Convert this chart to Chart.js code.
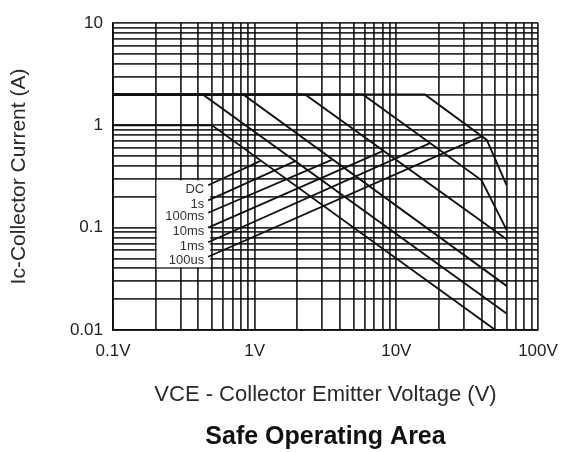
<!DOCTYPE html>
<html>
<head>
<meta charset="utf-8">
<title>Safe Operating Area</title>
<script src="https://cdn.jsdelivr.net/npm/chart.js@4.4.0/dist/chart.umd.min.js"></script>
<style>
  html, body { margin: 0; padding: 0; background: #fff; }
  #wrap { width: 569px; height: 452px; }
</style>
</head>
<body>
<div id="wrap"><canvas id="soa"></canvas></div>
<script>
// Decades of both axes and the text printed under / beside them.
const xTickValues = [0.1, 1, 10, 100];
const xTickLabels = ['0.1V', '1V', '10V', '100V'];
const yTickValues = [0.01, 0.1, 1, 10];
const yTickLabels = ['0.01', '0.1', '1', '10'];

// Pulse widths, in the order of the label column (top to bottom).
const pulseNames = ['DC', '1s', '100ms', '10ms', '1ms', '100us'];

// Boundary of each curve, VCE (V) against IC (A).
const dcVolt = [0.1, 0.5, 50];
const dcAmp = [1, 1, 0.01];
const s1Volt = [0.1, 0.43, 60];
const s1Amp = [2, 2, 0.0145];
const ms100Volt = [0.1, 0.83, 60];
const ms100Amp = [2, 2, 0.027];
const ms10Volt = [0.1, 2.27, 60];
const ms10Amp = [2, 2, 0.077];
const ms1Volt = [0.1, 5.8, 40, 60];
const ms1Amp = [2, 2, 0.29, 0.095];
const us100Volt = [0.1, 15.9, 43.5, 60];
const us100Amp = [2, 2, 0.72, 0.26];

// Leader lines: from the label column up to a point on each curve.
const leaderStartVolt = [0.47, 0.47, 0.47, 0.47, 0.47, 0.47];
const leaderStartAmp = [0.26, 0.185, 0.14, 0.1, 0.072, 0.052];
const leaderEndVolt = [1.1, 1.95, 3.5, 8.0, 17.3, 40];
const leaderEndAmp = [0.45, 0.45, 0.46, 0.56, 0.67, 0.78];

const FONT = '"Liberation Sans", Arial, sans-serif';
const INK = '#111';
const GRID = 'rgba(0,0,0,0.82)';

function toPoints(xs, ys) {
    return xs.map((v, i) => ({ x: v, y: ys[i] }));
}

// 1..9 times every power of ten inside [min, max]: the full log grid.
function logGrid(min, max) {
    const out = [];
    for (let e = Math.floor(Math.log10(min)); e <= Math.ceil(Math.log10(max)); e++) {
        for (let m = 1; m <= 9; m++) {
            const v = Number((m * Math.pow(10, e)).toPrecision(6));
            if (v >= min * 0.9999 && v <= max * 1.0001) out.push(v);
        }
    }
    return out;
}

function labelFor(values, labels) {
    return v => {
        const i = values.findIndex(t => Math.abs(t - v) / t < 1e-6);
        return i < 0 ? '' : labels[i];
    };
}

const curves = [
    toPoints(dcVolt, dcAmp),
    toPoints(s1Volt, s1Amp),
    toPoints(ms100Volt, ms100Amp),
    toPoints(ms10Volt, ms10Amp),
    toPoints(ms1Volt, ms1Amp),
    toPoints(us100Volt, us100Amp)
];

const datasets = [];
curves.forEach((pts, i) => {
    datasets.push({
        label: pulseNames[i],
        data: pts,
        showLine: true,
        borderColor: INK,
        borderWidth: 1.9,
        pointRadius: 0,
        tension: 0
    });
});
pulseNames.forEach((name, i) => {
    datasets.push({
        label: name + ' leader',
        data: [
            { x: leaderStartVolt[i], y: leaderStartAmp[i] },
            { x: leaderEndVolt[i], y: leaderEndAmp[i] }
        ],
        showLine: true,
        borderColor: INK,
        borderWidth: 1.8,
        pointRadius: 0
    });
});

// White patch behind the pulse-width labels, then the labels themselves.
const labelColumn = {
    id: 'labelColumn',
    beforeDatasetsDraw(chart) {
        const { ctx, scales: { x, y } } = chart;
        const left = x.getPixelForValue(0.2) + 1;
        const right = x.getPixelForValue(0.485);
        const top = y.getPixelForValue(0.29);
        const bottom = y.getPixelForValue(0.041);
        ctx.save();
        ctx.fillStyle = '#fff';
        ctx.fillRect(left, top, right - left, bottom - top);
        ctx.fillStyle = '#333';
        ctx.font = '13px ' + FONT;
        ctx.textAlign = 'right';
        ctx.textBaseline = 'middle';
        pulseNames.forEach((name, i) => {
            const px = x.getPixelForValue(leaderStartVolt[i]);
            const py = y.getPixelForValue(leaderStartAmp[i]);
            ctx.fillText(name, px - 4, py + 4);
        });
        ctx.restore();
    }
};

new Chart(document.getElementById('soa'), {
    type: 'scatter',
    data: { datasets },
    plugins: [labelColumn],
    options: {
        responsive: true,
        maintainAspectRatio: false,
        animation: false,
        layout: { padding: { top: 23, right: 31, left: 0, bottom: 0 } },
        plugins: {
            legend: { display: false },
            tooltip: { enabled: false },
            title: {
                display: true,
                position: 'bottom',
                fullSize: false,
                text: 'Safe Operating Area',
                color: INK,
                font: { family: FONT, size: 25, weight: 'bold' },
                padding: { top: 0, bottom: 0 }
            }
        },
        scales: {
            x: {
                type: 'logarithmic',
                min: 0.1,
                max: 100,
                afterBuildTicks: s => { s.ticks = logGrid(0.1, 100).map(v => ({ value: v })); },
                afterFit: s => { s.height = 92; },
                grid: { color: GRID, lineWidth: 1.8, drawTicks: false },
                border: { color: GRID, width: 1.8 },
                ticks: {
                    autoSkip: false,
                    maxRotation: 0,
                    padding: 11,
                    color: '#222',
                    font: { family: FONT, size: 17 },
                    callback: labelFor(xTickValues, xTickLabels)
                },
                title: {
                    display: true,
                    text: 'VCE - Collector Emitter Voltage (V)',
                    color: '#2a2a2a',
                    font: { family: FONT, size: 22 },
                    padding: { top: 0, bottom: 14 }
                }
            },
            y: {
                type: 'logarithmic',
                min: 0.01,
                max: 10,
                afterBuildTicks: s => { s.ticks = logGrid(0.01, 10).map(v => ({ value: v })); },
                afterFit: s => { s.width = 113; },
                grid: { color: GRID, lineWidth: 1.8, drawTicks: false },
                border: { color: GRID, width: 1.8 },
                ticks: {
                    autoSkip: false,
                    padding: 10,
                    color: '#222',
                    font: { family: FONT, size: 17 },
                    callback: labelFor(yTickValues, yTickLabels)
                },
                title: {
                    display: true,
                    text: 'Ic-Collector Current (A)',
                    color: '#2a2a2a',
                    font: { family: FONT, size: 21 },
                    padding: { top: 7, bottom: 0 }
                }
            }
        }
    }
});
</script>
</body>
</html>
